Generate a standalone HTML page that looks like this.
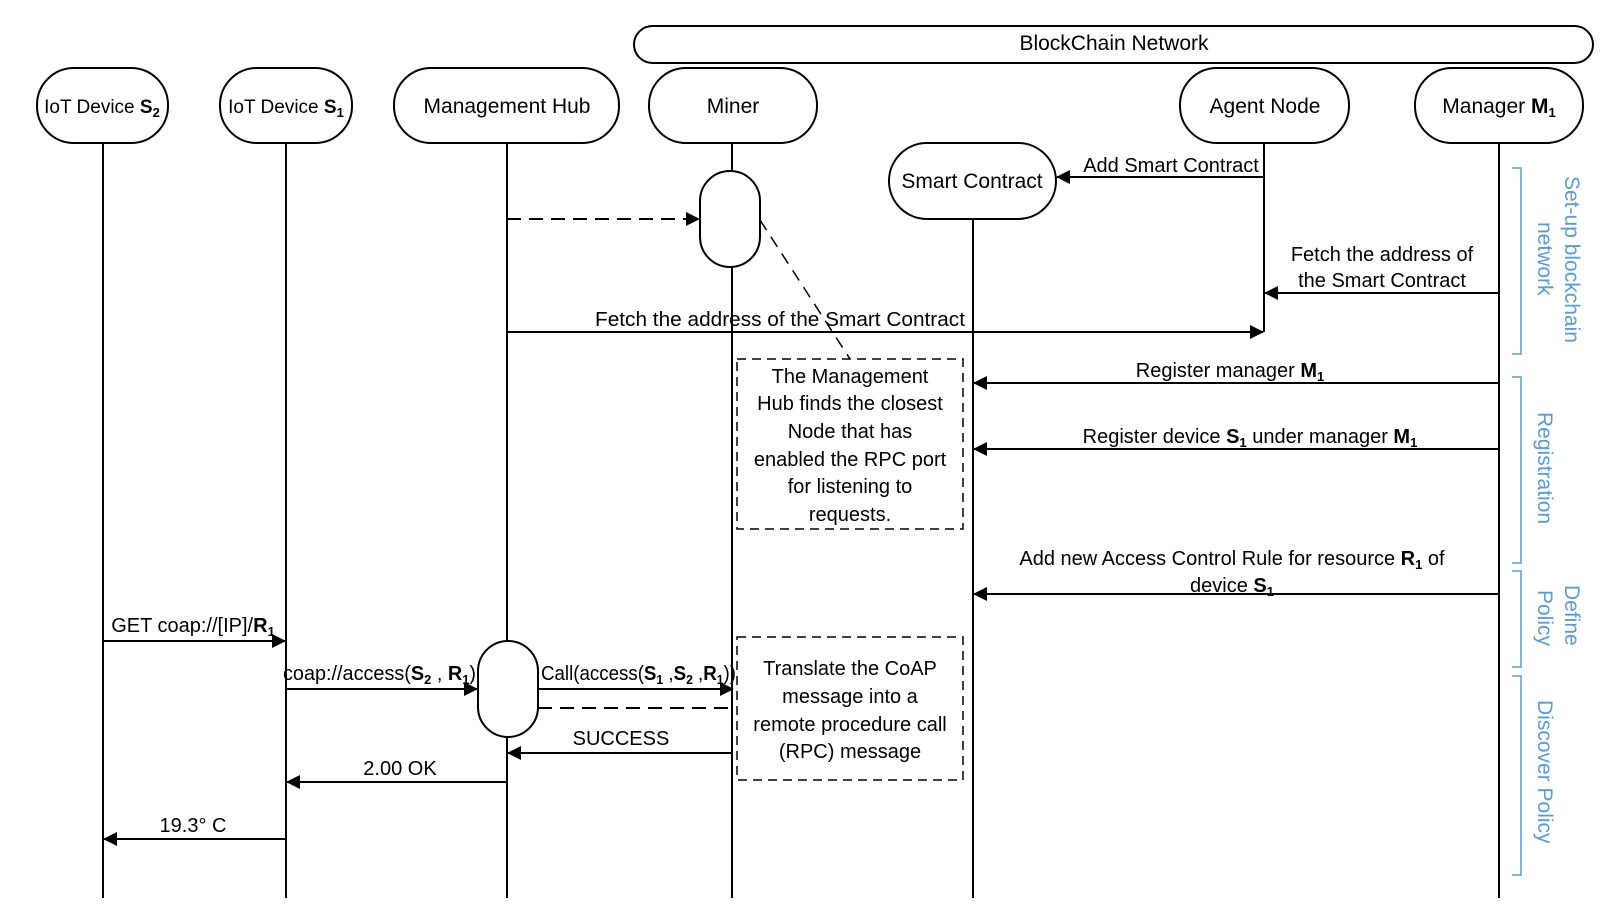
<!DOCTYPE html>
<html><head><meta charset="utf-8"><style>
html,body{margin:0;padding:0;background:#fff;}
svg{display:block;}
text{font-family:"Liberation Sans",sans-serif;font-size:20px;fill:#000;}
.b{font-weight:bold;}
.s{font-size:13px;font-weight:bold;}
.n{font-size:21px;}
.d{font-size:19px;}
.bl{fill:#5b9bd5;font-size:21px;}
</style></head><body>
<svg width="1608" height="918" viewBox="0 0 1608 918" xmlns="http://www.w3.org/2000/svg">
<defs>
<marker id="a2" markerWidth="14" markerHeight="14" refX="13" refY="7" orient="auto" markerUnits="userSpaceOnUse">
<path d="M0,0 L14,7 L0,14 z" fill="#000"/></marker>
</defs>
<g stroke="#000" stroke-width="2" fill="none">
<line x1="103" y1="143" x2="103" y2="898"/>
<line x1="286" y1="143" x2="286" y2="898"/>
<line x1="507" y1="143" x2="507" y2="898"/>
<line x1="732" y1="143" x2="732" y2="898"/>
<line x1="973" y1="219" x2="973" y2="898"/>
<line x1="1264" y1="143" x2="1264" y2="332"/>
<line x1="1499" y1="143" x2="1499" y2="898"/>
<rect x="634" y="26" width="959" height="37" rx="18.5" fill="#fff"/>
<rect x="37" y="68" width="131" height="75" rx="37" fill="#fff"/>
<rect x="220" y="68" width="132" height="75" rx="37" fill="#fff"/>
<rect x="394" y="68" width="225" height="75" rx="37" fill="#fff"/>
<rect x="649" y="68" width="168" height="75" rx="37" fill="#fff"/>
<rect x="1180" y="68" width="169" height="75" rx="37" fill="#fff"/>
<rect x="1415" y="68" width="168" height="75" rx="37" fill="#fff"/>
<rect x="889" y="143" width="167" height="76" rx="38" fill="#fff"/>
<rect x="700" y="171" width="60" height="96" rx="30" fill="#fff"/>
<rect x="478" y="641" width="60" height="96" rx="30" fill="#fff"/>
<rect x="737" y="359" width="226" height="170" stroke-dasharray="9,6" stroke-width="1.5"/>
<rect x="737" y="637" width="226" height="143" stroke-dasharray="9,6" stroke-width="1.5"/>
<line x1="760" y1="220" x2="850" y2="359" stroke-dasharray="12,8" stroke-width="1.5"/>
<line x1="507" y1="219" x2="699" y2="219" stroke-dasharray="14,8" marker-end="url(#a2)"/>
<line x1="1264" y1="177" x2="1057" y2="177" marker-end="url(#a2)"/>
<line x1="1499" y1="293" x2="1265" y2="293" marker-end="url(#a2)"/>
<line x1="507" y1="332" x2="1263" y2="332" marker-end="url(#a2)"/>
<line x1="1499" y1="383" x2="974" y2="383" marker-end="url(#a2)"/>
<line x1="1499" y1="449" x2="974" y2="449" marker-end="url(#a2)"/>
<line x1="1499" y1="594" x2="974" y2="594" marker-end="url(#a2)"/>
<line x1="103" y1="641" x2="285" y2="641" marker-end="url(#a2)"/>
<line x1="286" y1="689" x2="477" y2="689" marker-end="url(#a2)"/>
<line x1="538" y1="689" x2="733" y2="689" marker-end="url(#a2)"/>
<line x1="538" y1="708" x2="733" y2="708" stroke-dasharray="14,8"/>
<line x1="733" y1="753" x2="508" y2="753" marker-end="url(#a2)"/>
<line x1="507" y1="782" x2="287" y2="782" marker-end="url(#a2)"/>
<line x1="286" y1="839" x2="104" y2="839" marker-end="url(#a2)"/>
</g>
<g stroke="#5b9bd5" stroke-width="1.5" fill="none">
<path d="M1512,168 H1521 V354 H1512"/>
<path d="M1512,377 H1521 V563 H1512"/>
<path d="M1512,571 H1521 V667 H1512"/>
<path d="M1512,676 H1521 V875 H1512"/>
</g>
<text class="bl" transform="translate(1565,176) rotate(90)">Set-up blockchain</text>
<text class="bl" transform="translate(1538,222) rotate(90)">network</text>
<text class="bl" transform="translate(1538,412) rotate(90)">Registration</text>
<text class="bl" transform="translate(1565,585) rotate(90)">Define</text>
<text class="bl" transform="translate(1538,590) rotate(90)">Policy</text>
<text class="bl" transform="translate(1538,700) rotate(90)">Discover Policy</text>
<text x="283" y="680" textLength="193" lengthAdjust="spacingAndGlyphs">coap://access(<tspan class="b">S</tspan><tspan class="s" dy="4">2</tspan><tspan dy="-4"> , </tspan><tspan class="b">R</tspan><tspan class="s" dy="4">1</tspan><tspan dy="-4">)</tspan></text>
<text x="541" y="680" textLength="195" lengthAdjust="spacingAndGlyphs">Call(access(<tspan class="b">S</tspan><tspan class="s" dy="4">1</tspan><tspan dy="-4"> ,</tspan><tspan class="b">S</tspan><tspan class="s" dy="4">2</tspan><tspan dy="-4"> ,</tspan><tspan class="b">R</tspan><tspan class="s" dy="4">1</tspan><tspan dy="-4">))</tspan></text>
<g text-anchor="middle">
<text class="n" x="1114" y="50">BlockChain Network</text>
<text class="d" x="102" y="113">IoT Device <tspan class="b">S</tspan><tspan class="s" dy="4">2</tspan></text>
<text class="d" x="286" y="113">IoT Device <tspan class="b">S</tspan><tspan class="s" dy="4">1</tspan></text>
<text class="n" x="507" y="113">Management Hub</text>
<text class="n" x="733" y="113">Miner</text>
<text class="n" x="1265" y="113">Agent Node</text>
<text class="n" x="1499" y="113">Manager <tspan class="b">M</tspan><tspan class="s" dy="4">1</tspan></text>
<text class="n" x="972" y="188">Smart Contract</text>
<text x="1171" y="172">Add Smart Contract</text>
<text x="1382" y="261">Fetch the address of</text>
<text x="1382" y="287">the Smart Contract</text>
<text x="780" y="326" textLength="370" lengthAdjust="spacingAndGlyphs">Fetch the address of the Smart Contract</text>
<text x="1230" y="377">Register manager <tspan class="b">M</tspan><tspan class="s" dy="4">1</tspan></text>
<text x="1250" y="443">Register device <tspan class="b">S</tspan><tspan class="s" dy="4">1</tspan><tspan dy="-4"> under manager </tspan><tspan class="b">M</tspan><tspan class="s" dy="4">1</tspan></text>
<text x="1232" y="565">Add new Access Control  Rule for resource <tspan class="b">R</tspan><tspan class="s" dy="4">1</tspan><tspan dy="-4">  of</tspan></text>
<text x="1232" y="592">device <tspan class="b">S</tspan><tspan class="s" dy="4">1</tspan></text>
<text x="193" y="632">GET coap://[IP]/<tspan class="b">R</tspan><tspan class="s" dy="4">1</tspan></text>
<text x="621" y="745">SUCCESS</text>
<text x="400" y="775">2.00 OK</text>
<text x="193" y="832">19.3° C</text>
<text x="850" y="383">The Management</text>
<text x="850" y="410">Hub finds the closest</text>
<text x="850" y="438">Node that has</text>
<text x="850" y="466">enabled the RPC port</text>
<text x="850" y="493">for listening to</text>
<text x="850" y="521">requests.</text>
<text x="850" y="675">Translate the CoAP</text>
<text x="850" y="703">message into a</text>
<text x="850" y="731">remote procedure call</text>
<text x="850" y="758">(RPC) message</text>
</g>
</svg>
</body></html>
